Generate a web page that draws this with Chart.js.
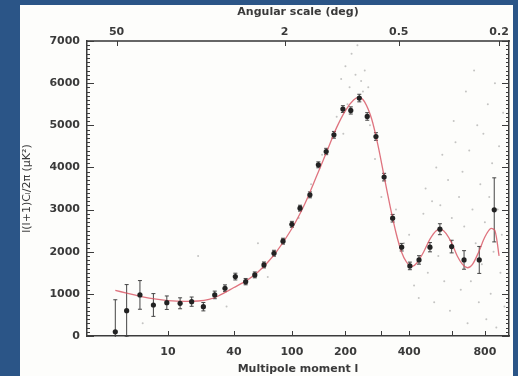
<!DOCTYPE html>
<html><head><meta charset="utf-8">
<script src="https://cdn.jsdelivr.net/npm/chart.js@4.4.0/dist/chart.umd.min.js"></script>
<style>html,body{margin:0;padding:0;background:#2b5587;}canvas{display:block}</style>
</head><body><canvas id="c" width="518" height="376"></canvas>
<script>
// ---- data (multipole l, power in uK^2) ----
const binL   = [2, 3, 4.6, 6.8, 9.7, 13.4, 17.4, 22.3, 28, 34, 41, 49, 57, 66, 77, 88, 100, 112, 128, 143, 158, 174, 194, 213, 235, 257, 283, 309, 338, 371, 403, 441, 490, 538, 599, 669, 763, 865];
const binVal = [100, 600, 975, 736, 790, 776, 815, 696, 975, 1133, 1410, 1290, 1450, 1686, 1964, 2250, 2650, 3033, 3349, 4062, 4378, 4774, 5385, 5352, 5646, 5210, 4734, 3770, 2795, 2107, 1663, 1805, 2107, 2534, 2122, 1805, 1805, 2993];
const binErr = [760, 620, 340, 270, 160, 130, 110, 100, 90, 80, 80, 75, 70, 70, 70, 70, 70, 70, 70, 70, 75, 80, 80, 85, 90, 90, 90, 90, 90, 90, 90, 100, 110, 130, 150, 220, 320, 760];

const modelL   = [2, 3, 4, 5, 7, 10, 15, 20, 25, 30, 40, 50, 60, 70, 80, 100, 120, 140, 160, 180, 200, 220, 235, 250, 270, 290, 310, 330, 350, 370, 390, 410, 430, 460, 490, 520, 545, 570, 600, 630, 660, 690, 720, 760, 800, 840, 870, 900];
const modelVal = [1080, 1020, 970, 930, 880, 840, 820, 830, 870, 950, 1150, 1320, 1520, 1750, 2000, 2550, 3150, 3800, 4400, 4950, 5350, 5600, 5660, 5550, 5150, 4500, 3750, 3050, 2450, 2000, 1750, 1650, 1720, 1980, 2300, 2500, 2530, 2430, 2200, 1900, 1700, 1620, 1700, 2000, 2350, 2550, 2500, 1900];

const scatterL   = [190, 200, 210, 215, 225, 230, 240, 250, 205, 245, 260, 180, 170, 195, 265, 280, 300, 150, 130, 110, 90, 350, 380, 400, 420, 440, 460, 470, 480, 500, 510, 520, 530, 540, 550, 560, 580, 590, 600, 610, 620, 640, 650, 660, 670, 680, 690, 700, 710, 720, 730, 740, 750, 760, 770, 780, 790, 800, 810, 820, 830, 840, 850, 860, 870, 880, 890, 900, 910, 920, 930, 940, 5, 20, 35, 60, 70];
const scatterVal = [6100, 6400, 5900, 6700, 6200, 6900, 6050, 6300, 5500, 5800, 5900, 5200, 4700, 4800, 5000, 4200, 3300, 4300, 3600, 2800, 2300, 3000, 2200, 2400, 1200, 900, 2900, 3500, 1500, 3200, 800, 4000, 1900, 3100, 4300, 1300, 3700, 600, 2800, 5100, 4600, 3300, 1100, 3900, 2600, 5800, 300, 4400, 1300, 3000, 6300, 2200, 5000, 800, 3600, 1700, 4800, 2700, 400, 5500, 3300, 1000, 4100, 2000, 6000, 200, 3000, 4500, 1500, 2400, 5300, 700, 300, 1900, 700, 2200, 1400];

const yTicks = [0, 1000, 2000, 3000, 4000, 5000, 6000, 7000];
const bottomTickL = [10, 40, 100, 200, 300, 400, 600, 800];
const bottomTickLabels = ['10', '40', '100', '200', '', '400', '', '800'];
const topTickL = [2.1, 90, 360, 900];
const topTickLabels = ['50', '2', '0.5', '0.2'];

// ---- axis transform (l^0.25 spacing as in the original figure) ----
const u = l => Math.pow(l, 0.25);
const U_MIN = 0.873, U_MAX = 5.588;
const AX = '#3c3c3c', TXT = '#3a3a3a';
const F = {family: 'DejaVu Sans', size: 11, weight: 'bold'};

const pts = (ls, vs) => ls.map((l, i) => ({x: u(l), y: vs[i]}));

const framePlugin = {
  id: 'frame',
  beforeDraw(chart) {
    const c = chart.ctx;
    c.save();
    c.fillStyle = '#2b5587';
    c.fillRect(0, 0, chart.width, chart.height);
    c.fillStyle = '#fdfdfb';
    c.fillRect(20, 5, 493, 371);
    c.restore();
  },
  beforeDatasetsDraw(chart) {
    const c = chart.ctx, xs = chart.scales.x, ys = chart.scales.y, a = chart.chartArea;
    c.save();
    c.beginPath(); c.rect(a.left, a.top, a.right - a.left, a.bottom - a.top + 1); c.clip();
    c.strokeStyle = '#444'; c.lineWidth = 1;
    binL.forEach((l, i) => {
      const px = xs.getPixelForValue(u(l));
      const y1 = ys.getPixelForValue(binVal[i] - binErr[i]);
      const y2 = ys.getPixelForValue(binVal[i] + binErr[i]);
      c.beginPath();
      c.moveTo(px, y1); c.lineTo(px, y2);
      c.moveTo(px - 2, y1); c.lineTo(px + 2, y1);
      c.moveTo(px - 2, y2); c.lineTo(px + 2, y2);
      c.stroke();
    });
    c.restore();
  },
  afterDraw(chart) {
    const c = chart.ctx, xs = chart.scales.x, ys = chart.scales.y, a = chart.chartArea;
    c.save();
    c.strokeStyle = AX; c.lineWidth = 1;
    c.beginPath();
    for (let v = 0; v <= 7000; v += 100) {
      const py = Math.round(ys.getPixelForValue(v)) + 0.5;
      const len = v % 1000 === 0 ? 7 : 3;
      c.moveTo(a.left, py); c.lineTo(a.left + len, py);
      c.moveTo(a.right, py); c.lineTo(a.right - len, py);
    }
    bottomTickL.forEach(l => {
      const px = Math.round(xs.getPixelForValue(u(l))) + 0.5;
      c.moveTo(px, a.bottom); c.lineTo(px, a.bottom - 5);
    });
    topTickL.forEach(l => {
      const px = Math.round(xs.getPixelForValue(u(l))) + 0.5;
      c.moveTo(px, a.top); c.lineTo(px, a.top + 5);
    });
    c.stroke();
    c.restore();
  }
};

new Chart(document.getElementById('c'), {
  type: 'scatter',
  data: {
    datasets: [
      {data: pts(scatterL, scatterVal), pointRadius: 1, pointBackgroundColor: 'rgba(110,110,110,0.4)', pointBorderWidth: 0, order: 3},
      {type: 'line', data: pts(modelL, modelVal), borderColor: 'rgba(215,80,95,0.8)', borderWidth: 1.3, pointRadius: 0, tension: 0.3, fill: false, order: 2},
      {data: pts(binL, binVal), pointRadius: 2.6, pointBackgroundColor: '#222', pointBorderColor: '#222', pointBorderWidth: 0, order: 1}
    ]
  },
  options: {
    responsive: false, animation: false, devicePixelRatio: 1,
    layout: {padding: 0},
    plugins: {legend: {display: false}, tooltip: {enabled: false}},
    scales: {
      x: {
        type: 'linear', position: 'bottom', min: U_MIN, max: U_MAX,
        grid: {display: false, drawTicks: false},
        border: {display: true, color: AX, width: 1.5},
        afterBuildTicks: s => { s.ticks = bottomTickL.map(l => ({value: u(l)})); },
        afterFit: s => { s.height = 40; },
        ticks: {autoSkip: false, maxRotation: 0, padding: 10, font: F, color: TXT, callback: (v, i) => bottomTickLabels[i]},
        title: {display: true, text: 'Multipole moment l', font: F, color: TXT, padding: {top: 0, bottom: 0}}
      },
      x2: {
        type: 'linear', axis: 'x', position: 'top', min: U_MIN, max: U_MAX,
        grid: {display: false, drawTicks: false},
        border: {display: true, color: '#666', width: 2},
        afterBuildTicks: s => { s.ticks = topTickL.map(l => ({value: u(l)})); },
        afterFit: s => { s.height = 41; },
        ticks: {autoSkip: false, maxRotation: 0, padding: 2, font: F, color: TXT, callback: (v, i) => topTickLabels[i]},
        title: {display: true, text: 'Angular scale (deg)', font: F, color: TXT, padding: {top: 6, bottom: 0}}
      },
      y: {
        type: 'linear', position: 'left', min: 0, max: 7000,
        grid: {display: false, drawTicks: false},
        border: {display: true, color: AX, width: 1.5},
        afterBuildTicks: s => { s.ticks = yTicks.map(v => ({value: v})); },
        afterFit: s => { s.width = 87; },
        ticks: {autoSkip: false, padding: 7, font: F, color: TXT, callback: v => String(v)},
        title: {display: true, text: 'l(l+1)Cₗ/2π (μK²)', font: {family: 'DejaVu Sans', size: 11}, color: TXT, padding: {top: 21, bottom: 0}}
      },
      y2: {
        type: 'linear', axis: 'y', position: 'right', min: 0, max: 7000,
        grid: {display: false, drawTicks: false},
        border: {display: true, color: AX, width: 1.5},
        ticks: {display: false},
        afterFit: s => { s.width = 9; }
      }
    }
  },
  plugins: [framePlugin]
});
</script>
</body></html>
